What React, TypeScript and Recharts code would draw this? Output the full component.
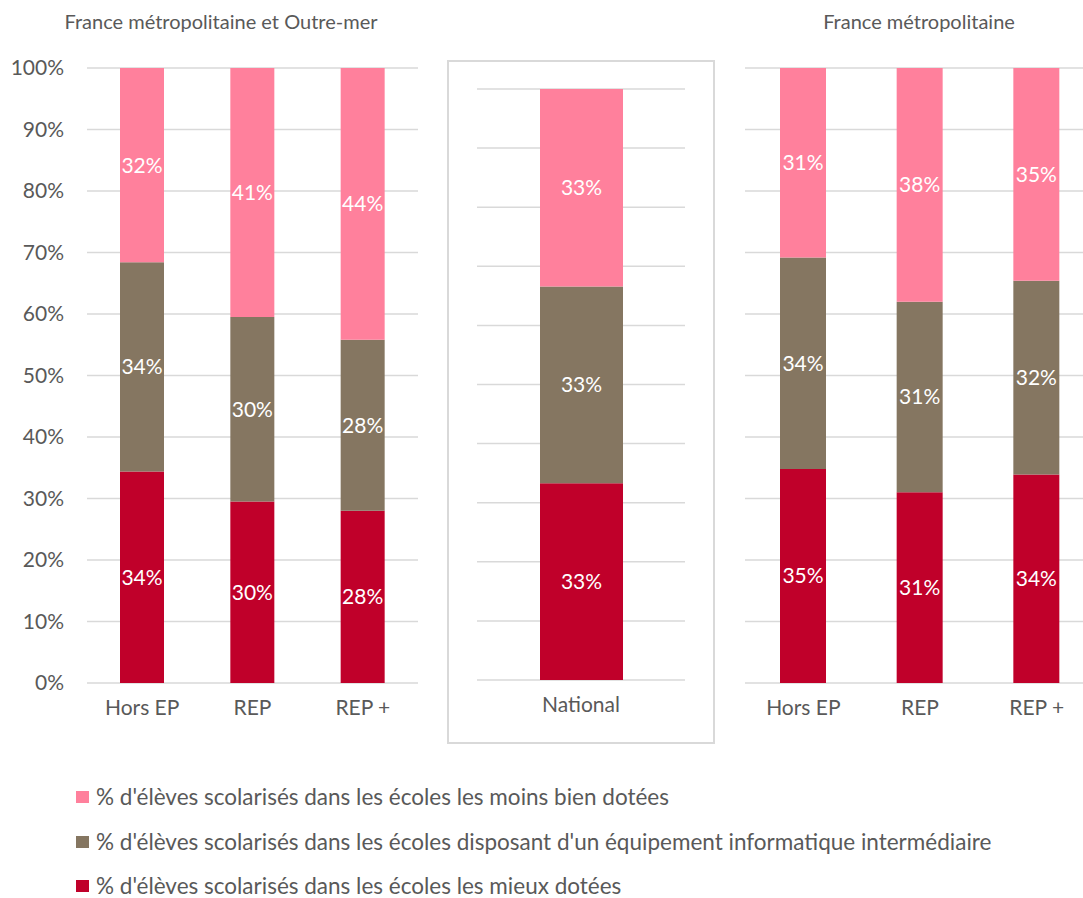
import React from "react";
import { Bar, BarChart, CartesianGrid, LabelList, XAxis, YAxis } from "recharts";

// Séries (en %)
const zonesOutreMer = ["Hors EP", "REP", "REP +"];
const mieuxOutreMer = [34.4, 29.5, 28.0];
const interOutreMer = [34.0, 30.0, 27.8];
const moinsOutreMer = [31.6, 40.5, 44.2];

const zonesNational = ["National"];
const mieuxNational = [33.3];
const interNational = [33.3];
const moinsNational = [33.4];

const zonesMetro = ["Hors EP", "REP", "REP +"];
const mieuxMetro = [34.8, 31.0, 33.9];
const interMetro = [34.4, 31.0, 31.5];
const moinsMetro = [30.8, 38.0, 34.6];

const yTicks = [0, 10, 20, 30, 40, 50, 60, 70, 80, 90, 100];

const series = [
  { key: "moins", name: "% d'élèves scolarisés dans les écoles les moins bien dotées", color: "#ff809c" },
  { key: "inter", name: "% d'élèves scolarisés dans les écoles disposant d'un équipement informatique intermédiaire", color: "#857661" },
  { key: "mieux", name: "% d'élèves scolarisés dans les écoles les mieux dotées", color: "#c0002a" },
];

const FONT = "Lato, 'Open Sans', sans-serif";
const TEXT = "#595959";
const GRID = "#d9d9d9";

function rows(zones: string[], mieux: number[], inter: number[], moins: number[]) {
  return zones.map((zone, i) => ({ zone, mieux: mieux[i], inter: inter[i], moins: moins[i] }));
}

const pct = (v: any) => `${Math.round(Number(v))}%`;

function Stack({ barSize }: { barSize: number }) {
  // rouge en bas, brun au milieu, rose en haut
  return (
    <>
      {["mieux", "inter", "moins"].map((k) => {
        const s = series.find((x) => x.key === k)!;
        return (
          <Bar key={k} dataKey={k} stackId="a" fill={s.color} barSize={barSize} isAnimationActive={false}>
            <LabelList dataKey={k} position="center" formatter={pct} fill="#ffffff" fontSize={21} fontFamily={FONT} />
          </Bar>
        );
      })}
    </>
  );
}

export default function App() {
  const left = rows(zonesOutreMer, mieuxOutreMer, interOutreMer, moinsOutreMer);
  const mid = rows(zonesNational, mieuxNational, interNational, moinsNational);
  const right = rows(zonesMetro, mieuxMetro, interMetro, moinsMetro);
  const tick = { fill: TEXT, fontSize: 21, fontFamily: FONT };

  return (
    <div style={{ position: "absolute", left: 0, top: 0, width: 1083, height: 898, overflow: "hidden", background: "#fff", fontFamily: FONT, color: TEXT }}>
      <div style={{ position: "absolute", left: 0, width: 442, top: 9, textAlign: "center", fontSize: 20 }}>
        France métropolitaine et Outre-mer
      </div>
      <div style={{ position: "absolute", left: 760, width: 318, top: 9, textAlign: "center", fontSize: 20 }}>
        France métropolitaine
      </div>

      <div style={{ position: "absolute", left: 0, top: 0 }}>
        <BarChart width={418} height={735} data={left} margin={{ top: 68, right: 0, bottom: 0, left: 0 }}>
          <CartesianGrid vertical={false} stroke={GRID} strokeWidth={1.5} />
          <XAxis dataKey="zone" axisLine={false} tickLine={false} tickSize={0} tickMargin={17} height={52} tick={tick} />
          <YAxis domain={[0, 100]} ticks={yTicks} width={87} axisLine={false} tickLine={false} tickSize={0} tickMargin={23} tickFormatter={(v) => `${v}%`} tick={tick} />
          {Stack({ barSize: 44 })}
        </BarChart>
      </div>

      <div style={{ position: "absolute", left: 447, top: 60, width: 268, height: 684, border: `2px solid ${GRID}`, boxSizing: "border-box" }} />
      <div style={{ position: "absolute", left: 447, top: 60 }}>
        <BarChart width={268} height={684} data={mid} margin={{ top: 29, right: 30, bottom: 0, left: 30 }}>
          <CartesianGrid vertical={false} stroke={GRID} strokeWidth={1.5} />
          <XAxis dataKey="zone" axisLine={false} tickLine={false} tickSize={0} tickMargin={17} height={64} tick={tick} />
          <YAxis hide domain={[0, 100]} ticks={yTicks} />
          {Stack({ barSize: 83 })}
        </BarChart>
      </div>

      <div style={{ position: "absolute", left: 745, top: 0 }}>
        <BarChart width={350} height={735} data={right} margin={{ top: 68, right: 0, bottom: 0, left: 0 }}>
          <CartesianGrid vertical={false} stroke={GRID} strokeWidth={1.5} />
          <XAxis dataKey="zone" axisLine={false} tickLine={false} tickSize={0} tickMargin={17} height={52} tick={tick} />
          <YAxis hide domain={[0, 100]} ticks={yTicks} />
          {Stack({ barSize: 46 })}
        </BarChart>
      </div>

      {series.map((s, i) => (
        <div key={s.key} style={{ position: "absolute", left: 76, top: 786 + i * 44.5, height: 22, lineHeight: "22px", display: "flex", alignItems: "center", fontSize: 22.5, whiteSpace: "nowrap" }}>
          <span style={{ display: "inline-block", width: 13, height: 12, background: s.color, marginRight: 7 }} />
          {s.name}
        </div>
      ))}
    </div>
  );
}
